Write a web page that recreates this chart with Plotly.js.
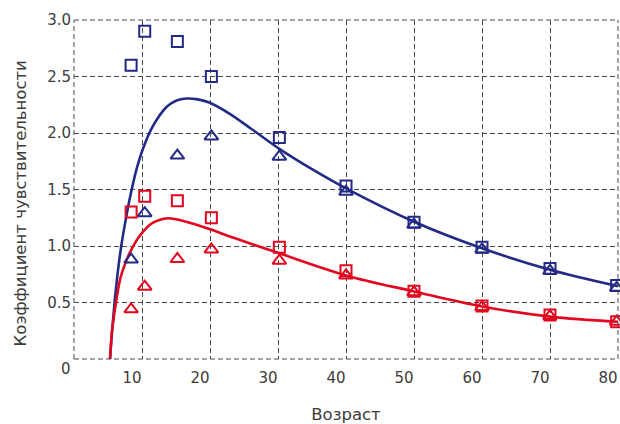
<!DOCTYPE html>
<html>
<head>
<meta charset="utf-8">
<script src="https://cdn.plot.ly/plotly-3.0.1.min.js"></script>
<style>
  html, body { margin: 0; padding: 0; background: #ffffff; }
  #chart { width: 620px; height: 424px; }
</style>
</head>
<body>
<div id="chart"></div>
<script>
// Measured ages (years)
var ages = [8.4, 10.4, 15.2, 20.2, 30.2, 40, 50, 60, 70, 79.8];

// Sensitivity coefficient, blue group
var blueSquares   = [2.60, 2.90, 2.81, 2.50, 1.96, 1.53, 1.21, 0.99, 0.80, 0.65];
var blueTriangles = [0.88, 1.29, 1.80, 1.97, 1.79, 1.48, 1.19, 0.97, 0.78, 0.63];

// Sensitivity coefficient, red group
var redSquares   = [1.30, 1.44, 1.40, 1.25, 0.99, 0.78, 0.60, 0.47, 0.39, 0.33];
var redTriangles = [0.44, 0.64, 0.885, 0.97, 0.87, 0.74, 0.59, 0.46, 0.38, 0.33];

// Fitted curves (sampled along the fit)
var blueFitX = [5.3, 5.6, 6.0, 6.5, 7.0, 7.6, 8.2, 9.2, 10.2, 11.6, 13.6, 15.0, 16.5, 18.0, 19.9, 22.9, 26.0, 30.2, 35.0, 40, 50, 60, 70, 80];
var blueFitY = [0.0, 0.25, 0.52, 0.80, 1.02, 1.23, 1.42, 1.68, 1.87, 2.06, 2.23, 2.285, 2.305, 2.30, 2.27, 2.17, 2.04, 1.86, 1.68, 1.51, 1.215, 0.98, 0.79, 0.645];

var redFitX = [5.3, 5.6, 6.0, 6.8, 7.5, 8.2, 9.2, 10.2, 11.2, 12.1, 13.8, 16.5, 19.9, 22.9, 26.0, 30.2, 40, 50, 60, 70, 80];
var redFitY = [0.0, 0.25, 0.43, 0.71, 0.84, 0.94, 1.05, 1.13, 1.19, 1.22, 1.245, 1.215, 1.15, 1.085, 1.02, 0.935, 0.74, 0.598, 0.465, 0.375, 0.33];

// Axis ticks
var xTicks = [10, 20, 30, 40, 50, 60, 70, 80];
var yTicks = [0.5, 1.0, 1.5, 2.0, 2.5, 3.0];
var yTickText = ['0.5', '1.0', '1.5', '2.0', '2.5', '3.0'];

var BLUE = '#232a85';
var RED = '#e3061f';
var TEXT = '#3c3c3c';
var GRID = '#4a4a4a';
var FONT = 'DejaVu Sans, sans-serif';

function fit(x, y, color) {
  return {
    x: x, y: y, type: 'scatter', mode: 'lines',
    line: { color: color, width: 2.6, shape: 'spline', smoothing: 1 },
    hoverinfo: 'skip', cliponaxis: true
  };
}
function pts(y, symbol, color, size) {
  return {
    x: ages, y: y, type: 'scatter', mode: 'markers',
    marker: { symbol: symbol, size: size, color: color, line: { color: color, width: 2 } },
    cliponaxis: false
  };
}

var data = [
  fit(blueFitX, blueFitY, BLUE),
  fit(redFitX, redFitY, RED),
  pts(blueSquares, 'square-open', BLUE, 11),
  pts(blueTriangles, 'triangle-up-open', BLUE, 12),
  pts(redSquares, 'square-open', RED, 11),
  pts(redTriangles, 'triangle-up-open', RED, 12)
];

var gridStyle = { showgrid: true, gridcolor: GRID, gridwidth: 1, griddash: '5px,3px' };

function edge(x0, x1, y0, y1) {
  return { type: 'line', xref: 'paper', yref: 'paper', x0: x0, x1: x1, y0: y0, y1: y1,
           line: { color: GRID, width: 1, dash: '5px,3px' } };
}

var layout = {
  width: 620, height: 424,
  margin: { l: 74, r: 2, t: 20, b: 65 },
  paper_bgcolor: '#ffffff', plot_bgcolor: '#ffffff',
  showlegend: false,
  font: { family: FONT, color: TEXT, size: 15 },
  xaxis: Object.assign({
    range: [0, 80], tickmode: 'array', tickvals: xTicks,
    ticks: '', zeroline: false, showline: false,
    ticklabelshift: -10, ticklabelstandoff: 8,
    tickfont: { family: FONT, color: TEXT, size: 15 },
    title: { text: 'Возраст', font: { family: FONT, color: TEXT, size: 16.5 }, standoff: 29 }
  }, gridStyle),
  yaxis: Object.assign({
    range: [0, 3], tickmode: 'array', tickvals: yTicks, ticktext: yTickText,
    ticks: '', zeroline: false, showline: false, ticklabelstandoff: 2,
    tickfont: { family: FONT, color: TEXT, size: 15 }
  }, gridStyle),
  // dashed frame along the plot edges
  shapes: [edge(0, 0, 0, 1), edge(0, 1, 0, 0), edge(0, 1, 1, 1), edge(1, 1, 0, 1)],
  annotations: [
    { text: 'Коэффициент чувствительности', textangle: -90, showarrow: false,
      xref: 'paper', yref: 'paper', x: 0, y: 0.459, xanchor: 'center', yanchor: 'middle',
      xshift: -54, font: { family: FONT, color: TEXT, size: 16.5 } },
    { text: '0', showarrow: false, xref: 'paper', yref: 'y', x: 0, y: 0,
      xanchor: 'right', yanchor: 'middle', xshift: -1, yshift: -10,
      font: { family: FONT, color: TEXT, size: 15 } }
  ]
};

Plotly.newPlot('chart', data, layout, { displayModeBar: false, staticPlot: true });
</script>
</body>
</html>
